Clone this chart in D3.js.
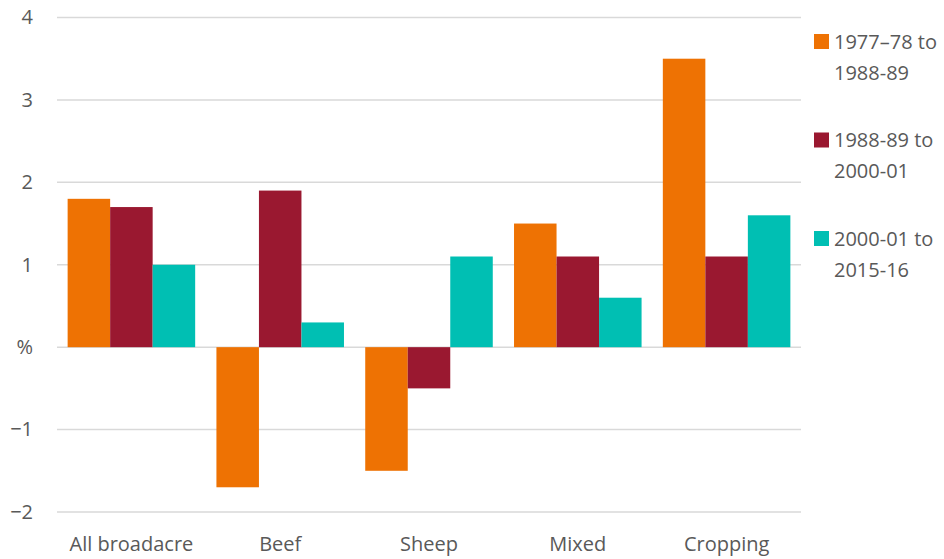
<!DOCTYPE html>
<html>
<head>
<meta charset="utf-8">
<script src="https://cdn.jsdelivr.net/npm/d3@7"></script>
<style>
  body { margin: 0; background: #fff; }
  text { font-family: "Open Sans", "Noto Sans", sans-serif; fill: #595959; }
</style>
</head>
<body>
<svg id="chart" width="944" height="559"></svg>
<script>
// Annual productivity growth by farm type, per period
const categories = ["All broadacre", "Beef", "Sheep", "Mixed", "Cropping"];
const seriesNames = ["1977\u201378 to 1988-89", "1988-89 to 2000-01", "2000-01 to 2015-16"];
const legendLines = [["1977\u201378 to", "1988-89"], ["1988-89 to", "2000-01"], ["2000-01 to", "2015-16"]];
const period1 = [1.8, -1.7, -1.5, 1.5, 3.5];
const period2 = [1.7, 1.9, -0.5, 1.1, 1.1];
const period3 = [1.0, 0.3, 1.1, 0.6, 1.6];
const yTicks = [-2, -1, 0, 1, 2, 3, 4];
const yTickLabels = ["\u22122", "\u22121", "%", "1", "2", "3", "4"];
const colors = ["#EE7203", "#9A1830", "#00BFB3"];

const series = [period1, period2, period3];

const svg = d3.select("#chart");
const margin = { left: 57, right: 143, top: 17.5, bottom: 47 };
const W = 944, H = 559;

const y = d3.scaleLinear().domain([-2, 4]).range([H - margin.bottom, margin.top]);
const x0 = d3.scaleBand().domain(categories).range([margin.left, W - margin.right]).paddingInner(0).paddingOuter(0);
// Bars fill the band with a gap of half a bar width
const barW = x0.bandwidth() / 3.5;
const x1 = d3.scaleBand().domain(d3.range(3)).range([barW * 0.25, barW * 3.25]).padding(0);

// Gridlines
svg.append("g").selectAll("line").data(yTicks).join("line")
  .attr("x1", margin.left).attr("x2", W - margin.right)
  .attr("y1", d => y(d)).attr("y2", d => y(d))
  .attr("stroke", "#d9d9d9").attr("stroke-width", 1.5);

// Y axis labels
const yAxis = d3.axisLeft(y).tickValues(yTicks).tickSize(0).tickPadding(0)
  .tickFormat((d, i) => yTickLabels[yTicks.indexOf(d)]);
const gy = svg.append("g").attr("transform", `translate(${margin.left - 24},0)`).call(yAxis);
gy.select(".domain").remove();
gy.selectAll("text").attr("font-size", 20).style("font-family", "\"Open Sans\", sans-serif").attr("fill", "#595959");

// Bars
const groups = svg.append("g").selectAll("g").data(categories).join("g")
  .attr("transform", d => `translate(${x0(d)},0)`);
groups.selectAll("rect").data((c, ci) => series.map((s, si) => ({ si, v: s[ci] })))
  .join("rect")
  .attr("x", d => x1(d.si))
  .attr("width", x1.bandwidth())
  .attr("y", d => y(Math.max(0, d.v)))
  .attr("height", d => Math.abs(y(d.v) - y(0)))
  .attr("fill", d => colors[d.si]);

// Category labels
const xAxis = d3.axisBottom(x0).tickSize(0).tickPadding(0);
const gx = svg.append("g").attr("transform", `translate(0,${H - 15})`).call(xAxis);
gx.select(".domain").remove();
gx.selectAll("text").attr("font-size", 20).attr("dy", "0.35em")
  .style("font-family", "\"Open Sans\", sans-serif").attr("fill", "#595959");

// Legend
const legend = svg.append("g").attr("transform", "translate(814,0)");
const item = legend.selectAll("g").data(seriesNames).join("g")
  .attr("transform", (d, i) => `translate(0,${34 + i * 98.5})`);
item.append("rect").attr("width", 15).attr("height", 15).attr("fill", (d, i) => colors[i]);
item.each(function (d, i) {
  const t = d3.select(this).append("text").attr("x", 20).attr("font-size", 20);
  legendLines[i].forEach((ln, k) => {
    t.append("tspan").attr("x", 20).attr("y", 7.5 + k * 31).attr("dy", "0.35em").text(ln);
  });
});
</script>
</body>
</html>
